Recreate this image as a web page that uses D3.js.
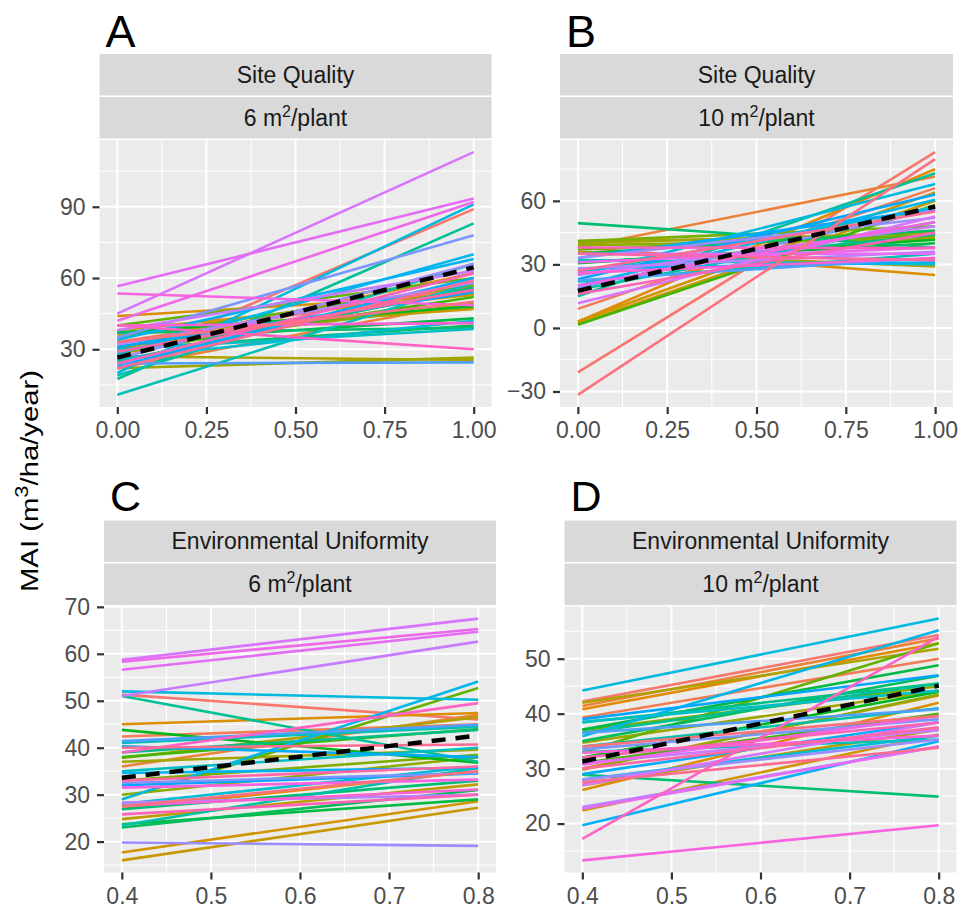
<!DOCTYPE html>
<html>
<head>
<meta charset="utf-8">
<script src="https://cdn.jsdelivr.net/npm/d3@7"></script>
<style>
  body { margin: 0; background: #fff; }
  svg { display: block; }
</style>
</head>
<body>
<div id="chart"></div>
<script>
// figure size
const width = 962;
const height = 909;

// one line per group, coloured with ggplot's default hue palette
const nGroups = 44;

// A: site quality, 6 m2/plant (MAI at quality 0 and 1)
const startA = [25, 33, 22, 30, 44, 38, 36, 28, 27, 22, 31, 35, 40, 29, 37, 33, 30, 37, 25, 17.5, 19, 10.8, 30, 26,
  20, 28, 34, 23, 31, 24, 35, 26, 32, 38, 45, 56.5, 42, 53.5, 40, 40, 24, 29, 22, 33];
const endA = [89, 56, 50, 62, 53, 53, 47, 55, 25.5, 26.5, 49, 57, 60, 52, 48, 43, 40, 39, 56, 83, 66, 58, 38.5, 42,
  91, 70, 68, 60, 54, 24.5, 78, 66, 58, 63, 113, 93.5, 92, 48.5, 41, 30, 62, 55, 59, 50];
const meanA = [26.5, 64.5];

// B: site quality, 10 m2/plant
const startB = [-21, 9, 38, 3, 38, 3, 2, 36, 41, 40, 39, 41, 37, 1.5, 30.6, 31, 35, 49.5, 27, 15, 18, 22, 32, 26,
  25, 20, 28, 33, 23, 22.5, 19, 33, 28, 25, 11.7, 35, 31, 20, 26, 38, 16, 35, 27, -31.6];
const endB = [83, 66, 71.5, 75, 25, 64, 60, 29, 43, 45, 42, 48, 44, 58, 41.6, 40, 46, 38, 44, 73, 50, 35, 30, 57,
  68, 60.5, 31, 56, 63, 33, 55.8, 52, 36, 48, 52.6, 35, 38, 50, 33, 37.7, 45, 32, 55, 79.7];
const meanB = [17.5, 57.3];

// C: environmental uniformity, 6 m2/plant (MAI at 0.4 and 0.8)
const startC = [51.3, 42.4, 36, 27, 45, 17.7, 16, 24.8, 37.8, 37, 30, 33, 29, 38, 43.8, 23.7, 23, 26.9, 39, 51, 23.5, 41, 35, 28,
  52, 29, 34.6, 40.3, 32, 41.4, 32.5, 19.8, 28.3, 51, 58.7, 56.6, 58.3, 31.5, 27.6, 39, 25.8, 33, 40, 27.5];
const endC = [46, 45, 47, 35, 47.4, 28.6, 27.2, 32.2, 46.5, 39.6, 38, 38.5, 52.7, 44, 36.8, 29, 31, 33, 43.8, 37, 35.7, 44.5, 40, 36,
  50.2, 54.1, 35.7, 38, 34.5, 44.9, 34.6, 19.1, 30, 62.6, 67.5, 64.7, 65.3, 33.2, 31.1, 49.5, 30, 36, 40.7, 35];
const meanC = [33.6, 42.6];

// D: environmental uniformity, 10 m2/plant
const startD = [42.2, 39.3, 41.4, 40.8, 26.1, 22.4, 30, 27, 42, 34.7, 29.8, 37, 33, 31, 32, 37.1, 35, 28.9, 38.4, 36.5, 34, 33, 38.5, 28,
  44.2, 35.9, 19.7, 29, 39, 36.5, 33.5, 28, 23, 31, 27, 22.7, 30.7, 13.3, 32.9, 17.2, 32, 30, 27.5, 34];
const endD = [54.3, 50, 53.7, 52.8, 42, 36.2, 43.3, 37.1, 51.8, 44.2, 43.5, 45, 52.8, 40, 44, 48.8, 46.9, 24.9, 45.5, 45.5, 41, 35.3, 44.2, 36,
  57.3, 55.2, 35, 38.5, 47, 40.8, 39, 35.3, 34, 37, 38.4, 34, 39.6, 19.7, 36, 54, 38.4, 37.5, 33.8, 39.6];
const meanD = [31.3, 45.1];

// axis ticks
const xTicksSQ = [0, 0.25, 0.5, 0.75, 1];
const xTicksEU = [0.4, 0.5, 0.6, 0.7, 0.8];
const yTicksA = [30, 60, 90];
const yTicksB = [-30, 0, 30, 60];
const yTicksC = [20, 30, 40, 50, 60, 70];
const yTicksD = [20, 30, 40, 50];

const font = "'Liberation Sans', Arial, Helvetica, sans-serif";

// ggplot hue palette: polar LUV (l = 65, c = 100) converted to sRGB
function hueColor(h) {
  const L = 65, C = 100;
  const hr = h * Math.PI / 180;
  const u = C * Math.cos(hr), v = C * Math.sin(hr);
  const Xn = 95.047, Yn = 100, Zn = 108.883;
  const den = Xn + 15 * Yn + 3 * Zn;
  const un = 4 * Xn / den, vn = 9 * Yn / den;
  const Y = Yn * Math.pow((L + 16) / 116, 3);
  const up = u / (13 * L) + un, vp = v / (13 * L) + vn;
  const X = 9 * Y * up / (4 * vp);
  const Z = 3 * Y / vp - X / 3 - 5 * Y;
  const x = X / 100, y = Y / 100, z = Z / 100;
  const lin = [
    3.240479 * x - 1.537150 * y - 0.498535 * z,
    -0.969256 * x + 1.875992 * y + 0.041556 * z,
    0.055648 * x - 0.204043 * y + 1.057311 * z
  ];
  const gam = c => {
    const s = c <= 0.0031308 ? 12.92 * c : 1.055 * Math.pow(c, 1 / 2.4) - 0.055;
    return Math.max(0, Math.min(1, s)) * 255;
  };
  return d3.rgb(gam(lin[0]), gam(lin[1]), gam(lin[2])).formatHex();
}
const color = i => hueColor(15 + 360 * i / nGroups);

const panels = [
  {letter: "A", strip: "Site Quality", dens: "6", left: 99.5, top: 140, w: 392, h: 267,
   xDom: [0, 1], xTicks: xTicksSQ, xFmt: ".2f", yTicks: yTicksA, starts: startA, ends: endA, mean: meanA},
  {letter: "B", strip: "Site Quality", dens: "10", left: 560, top: 140, w: 393, h: 267,
   xDom: [0, 1], xTicks: xTicksSQ, xFmt: ".2f", yTicks: yTicksB, starts: startB, ends: endB, mean: meanB},
  {letter: "C", strip: "Environmental Uniformity", dens: "6", left: 104, top: 606.5, w: 392, h: 266,
   xDom: [0.4, 0.8], xTicks: xTicksEU, xFmt: ".1f", yTicks: yTicksC, starts: startC, ends: endC, mean: meanC},
  {letter: "D", strip: "Environmental Uniformity", dens: "10", left: 564.5, top: 606.5, w: 392, h: 266,
   xDom: [0.4, 0.8], xTicks: xTicksEU, xFmt: ".1f", yTicks: yTicksD, starts: startD, ends: endD, mean: meanD}
];

const svg = d3.select("#chart").append("svg")
    .attr("width", width)
    .attr("height", height)
    .style("font-family", font);

// ggplot style 5% padding on both sides
function expand(dom) {
  const pad = (dom[1] - dom[0]) * 0.05;
  return [dom[0] - pad, dom[1] + pad];
}

// minor grid positions halfway between the major ticks
function minors(ticks, dom) {
  const step = ticks[1] - ticks[0];
  const out = [];
  for (let v = ticks[0] - step / 2; v <= dom[1]; v += step) if (v >= dom[0]) out.push(v);
  return out;
}

panels.forEach(p => {
  const yExt = d3.extent(p.starts.concat(p.ends, p.mean));
  const xDomain = expand(p.xDom);
  const yDomain = expand(yExt);
  const x = d3.scaleLinear().domain(xDomain).range([p.left, p.left + p.w]);
  const y = d3.scaleLinear().domain(yDomain).range([p.top + p.h, p.top]);

  const g = svg.append("g");

  // panel letter
  const letterUp = p.top < 300;
  g.append("text")
      .attr("x", p.left + 6)
      .attr("y", letterUp ? 47 : 511)
      .style("font-size", letterUp ? "45px" : "43px")
      .attr("fill", "#000")
      .text(p.letter);

  // two stacked strips
  const stripH = 41.5, gap = 1.5;
  [0, 1].forEach(k => {
    const sy = p.top - (2 - k) * (stripH + gap);
    g.append("rect")
        .attr("x", p.left).attr("y", sy)
        .attr("width", p.w).attr("height", stripH)
        .attr("fill", "#d9d9d9");
    const t = g.append("text")
        .attr("x", p.left + p.w / 2)
        .attr("y", sy + stripH / 2 + 8)
        .attr("text-anchor", "middle")
        .style("font-size", "23px")
        .attr("fill", "#1a1a1a");
    if (k === 0) {
      t.text(p.strip);
    } else {
      t.append("tspan").text(p.dens + " m");
      t.append("tspan").attr("dy", -9).style("font-size", "16px").text("2");
      t.append("tspan").attr("dy", 9).text("/plant");
    }
  });

  // panel background and grid
  g.append("rect")
      .attr("x", p.left).attr("y", p.top)
      .attr("width", p.w).attr("height", p.h)
      .attr("fill", "#ebebeb");

  const grid = g.append("g").attr("stroke", "#fff").attr("fill", "none");
  const xMinor = minors(p.xTicks, xDomain);
  const yMinor = minors(p.yTicks, yDomain);
  grid.selectAll(".xminor").data(xMinor).enter().append("line")
      .attr("x1", d => x(d)).attr("x2", d => x(d))
      .attr("y1", p.top).attr("y2", p.top + p.h)
      .attr("stroke-width", 1);
  grid.selectAll(".yminor").data(yMinor).enter().append("line")
      .attr("y1", d => y(d)).attr("y2", d => y(d))
      .attr("x1", p.left).attr("x2", p.left + p.w)
      .attr("stroke-width", 1);
  grid.selectAll(".xmajor").data(p.xTicks).enter().append("line")
      .attr("x1", d => x(d)).attr("x2", d => x(d))
      .attr("y1", p.top).attr("y2", p.top + p.h)
      .attr("stroke-width", 2);
  grid.selectAll(".ymajor").data(p.yTicks).enter().append("line")
      .attr("y1", d => y(d)).attr("y2", d => y(d))
      .attr("x1", p.left).attr("x2", p.left + p.w)
      .attr("stroke-width", 2);

  // group lines
  const line = d3.line().x(d => x(d[0])).y(d => y(d[1]));
  g.append("g").selectAll("path")
      .data(d3.range(nGroups))
      .enter()
      .append("path")
      .attr("d", i => line([[p.xDom[0], p.starts[i]], [p.xDom[1], p.ends[i]]]))
      .attr("fill", "none")
      .attr("stroke", i => color(i))
      .attr("stroke-width", 2.6);

  // overall trend
  g.append("path")
      .attr("d", line([[p.xDom[0], p.mean[0]], [p.xDom[1], p.mean[1]]]))
      .attr("fill", "none")
      .attr("stroke", "#000")
      .attr("stroke-width", 4.4)
      .attr("stroke-dasharray", "14,10");

  // axes
  const xAxis = g.append("g")
      .attr("transform", `translate(0,${p.top + p.h})`)
      .call(d3.axisBottom(x).tickValues(p.xTicks).tickFormat(d3.format(p.xFmt)).tickSize(7).tickPadding(8));
  const yAxis = g.append("g")
      .attr("transform", `translate(${p.left},0)`)
      .call(d3.axisLeft(y).tickValues(p.yTicks).tickFormat(d3.format("d")).tickSize(7).tickPadding(7));
  [xAxis, yAxis].forEach(a => {
    a.select(".domain").remove();
    a.selectAll(".tick line").attr("stroke", "#333").attr("stroke-width", 2.2);
    a.selectAll(".tick text")
        .attr("fill", "#4d4d4d")
        .style("font-size", "23px")
        .style("font-family", font);
  });
});

// shared y axis title
const yTitle = svg.append("text")
    .attr("transform", "translate(38,481) rotate(-90) scale(1.22,1)")
    .attr("text-anchor", "middle")
    .style("font-size", "24px")
    .attr("fill", "#000");
yTitle.append("tspan").text("MAI (m");
yTitle.append("tspan").attr("dy", -10).style("font-size", "18px").text("3");
yTitle.append("tspan").attr("dy", 10).text("/ha/year)");
</script>
</body>
</html>
